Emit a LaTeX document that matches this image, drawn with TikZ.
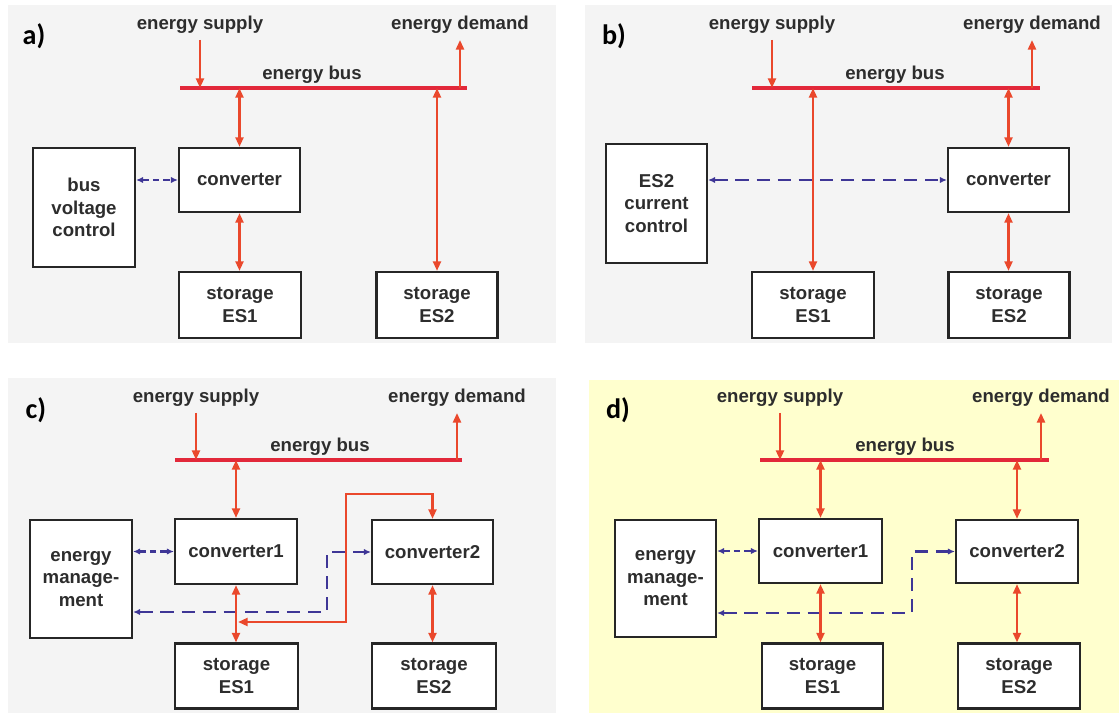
\documentclass[tikz,border=0pt]{standalone}
\usepackage{fontspec}
\setsansfont{Liberation Sans}
\newfontfamily\panelfont{Carlito}
\usepackage{tikz}
\usetikzlibrary{arrows.meta}

\definecolor{flowred}{RGB}{234,72,44}
\definecolor{busred}{RGB}{226,40,58}
\definecolor{ctrlblue}{RGB}{62,54,150}
\definecolor{panelgray}{RGB}{244,244,244}
\definecolor{panelyellow}{RGB}{255,255,206}
\definecolor{boxgray}{RGB}{38,38,38}
\definecolor{txtgray}{RGB}{45,45,45}

\begin{document}
\begin{tikzpicture}[x=0.02cm,y=-0.02cm,
  every node/.style={font=\sffamily\bfseries\fontsize{10.6}{12.8}\selectfont, text=txtgray},
  box/.style 2 args={draw=boxgray, fill=white, line width=1.2pt, align=center, inner sep=0pt,
                     minimum width=#1*0.02cm, minimum height=#2*0.02cm},
  tag/.style={font=\panelfont\bfseries\fontsize{16}{18}\selectfont, text=black},
  bus/.style={draw=busred, line width=2pt},
  flow/.style={draw=flowred, line width=1.6pt,
               {Triangle[length=5.5pt,width=4.5pt]}-{Triangle[length=5.5pt,width=4.5pt]}},
  feed/.style={draw=flowred, line width=1.6pt, -{Triangle[length=5.5pt,width=4.5pt]}},
  ctrl/.style={draw=ctrlblue, line width=1.4pt, dash pattern=on 7.5pt off 4.5pt,
               {Latex[length=4pt,width=3.6pt]}-{Latex[length=4pt,width=3.6pt]}},
  ctrlshort/.style={ctrl, dash pattern=on 3.5pt off 2.5pt}]
\useasboundingbox (0,0) rectangle (1119,713);

% a)
\fill[panelgray] (8,5) rectangle (556,343);
\node[tag] (a-tag) at (34,36) {a)};
\node (a-sup) at (200,25) {energy supply};
\node (a-dem) at (460,25) {energy demand};
\coordinate (a-busL) at (180,88);
\coordinate (a-busR) at (467,88);
\draw[bus] (a-busL) -- (a-busR);
\node (a-buslbl) at (312,75) {energy bus};
\node[box={121}{64}] (a-conv) at (239.5,180) {converter};
\node[box={102}{119}] (a-ctl) at (84,207.5) {bus\\voltage\\control};
\node[box={122}{66}] (a-es1) at (240,305) {storage\\ES1};
\node[box={121}{66}] (a-es2) at (437,305) {storage\\ES2};
\draw[feed] (a-sup.south) -- (a-sup.south |- a-busL);
\draw[feed] (a-dem.south |- a-busL) -- (a-dem.south);
\draw[flow] (a-conv.north |- a-busL) -- (a-conv.north);
\draw[flow] (a-conv.south) -- (a-es1.north -| a-conv.south);
\draw[flow] (a-es2.north |- a-busL) -- (a-es2.north);
\draw[ctrlshort] (a-ctl.east |- a-conv.west) -- (a-conv.west);

% b)
\fill[panelgray] (585,5) rectangle (1112,343);
\node[tag] (b-tag) at (614,36) {b)};
\node (b-sup) at (772,25) {energy supply};
\node (b-dem) at (1032,25) {energy demand};
\coordinate (b-busL) at (752,88);
\coordinate (b-busR) at (1040,88);
\draw[bus] (b-busL) -- (b-busR);
\node (b-buslbl) at (895,75) {energy bus};
\node[box={101}{119}] (b-ctl) at (656.5,203.5) {ES2\\current\\control};
\node[box={121}{64}] (b-conv) at (1008.5,180) {converter};
\node[box={122}{66}] (b-es1) at (813,305) {storage\\ES1};
\node[box={121}{66}] (b-es2) at (1009,305) {storage\\ES2};
\draw[feed] (b-sup.south) -- (b-sup.south |- b-busL);
\draw[feed] (b-dem.south |- b-busL) -- (b-dem.south);
\draw[ctrl] (b-ctl.east |- b-conv.west) -- (b-conv.west);
\draw[flow] (b-es1.north |- b-busL) -- (b-es1.north);
\draw[flow] (b-conv.north |- b-busL) -- (b-conv.north);
\draw[flow] (b-conv.south) -- (b-es2.north -| b-conv.south);

% c)
\fill[panelgray] (8,378) rectangle (556,713);
\node[tag] (c-tag) at (36,410) {c)};
\node (c-sup) at (196,398) {energy supply};
\node (c-dem) at (457,398) {energy demand};
\coordinate (c-busL) at (175,460);
\coordinate (c-busR) at (462,460);
\draw[bus] (c-busL) -- (c-busR);
\node (c-buslbl) at (320,447) {energy bus};
\node[box={122}{65}] (c-conv1) at (236,551.5) {converter1};
\node[box={121}{64}] (c-conv2) at (432.5,552) {converter2};
\node[box={102}{118}] (c-em) at (81,579) {energy\\manage-\\ment};
\node[box={123}{65}] (c-es1) at (236.5,676) {storage\\ES1};
\node[box={124}{65}] (c-es2) at (434,676) {storage\\ES2};
\coordinate (c-sig) at (327,612);
\coordinate (c-loop) at (346,494);
\coordinate (c-tap) at (238,622);
\draw[feed] (c-sup.south) -- (c-sup.south |- c-busL);
\draw[feed] (c-dem.south |- c-busL) -- (c-dem.south);
\draw[ctrlshort] (c-em.east |- c-conv1.west) -- (c-conv1.west);
\draw[ctrl] (c-em.east |- c-sig) -| (c-sig |- c-conv2.west) -- (c-conv2.west);
\draw[flow] (c-conv1.north |- c-busL) -- (c-conv1.north);
\draw[flow] (c-conv1.south) -- (c-es1.north -| c-conv1.south);
\draw[flow] (c-conv2.south) -- (c-es2.north -| c-conv2.south);
\draw[flow] (c-tap) -| (c-loop) -| (c-conv2.north);

% d)
\fill[panelyellow] (589,380) rectangle (1119,713);
\node[tag] (d-tag) at (618,410) {d)};
\node (d-sup) at (780,398) {energy supply};
\node (d-dem) at (1041,398) {energy demand};
\coordinate (d-busL) at (760,460);
\coordinate (d-busR) at (1049,460);
\draw[bus] (d-busL) -- (d-busR);
\node (d-buslbl) at (905,447) {energy bus};
\node[box={123}{64}] (d-conv1) at (820.5,551) {converter1};
\node[box={122}{63}] (d-conv2) at (1017,551.5) {converter2};
\node[box={101}{117}] (d-em) at (665.5,578.5) {energy\\manage-\\ment};
\node[box={121}{65}] (d-es1) at (822.5,676) {storage\\ES1};
\node[box={122}{65}] (d-es2) at (1019,676) {storage\\ES2};
\coordinate (d-sig) at (912,613);
\draw[feed] (d-sup.south) -- (d-sup.south |- d-busL);
\draw[feed] (d-dem.south |- d-busL) -- (d-dem.south);
\draw[ctrlshort] (d-em.east |- d-conv1.west) -- (d-conv1.west);
\draw[ctrl] (d-em.east |- d-sig) -| (d-sig |- d-conv2.west) -- (d-conv2.west);
\draw[flow] (d-conv1.north |- d-busL) -- (d-conv1.north);
\draw[flow] (d-conv1.south) -- (d-es1.north -| d-conv1.south);
\draw[flow] (d-conv2.north |- d-busL) -- (d-conv2.north);
\draw[flow] (d-conv2.south) -- (d-es2.north -| d-conv2.south);
\end{tikzpicture}
\end{document}
